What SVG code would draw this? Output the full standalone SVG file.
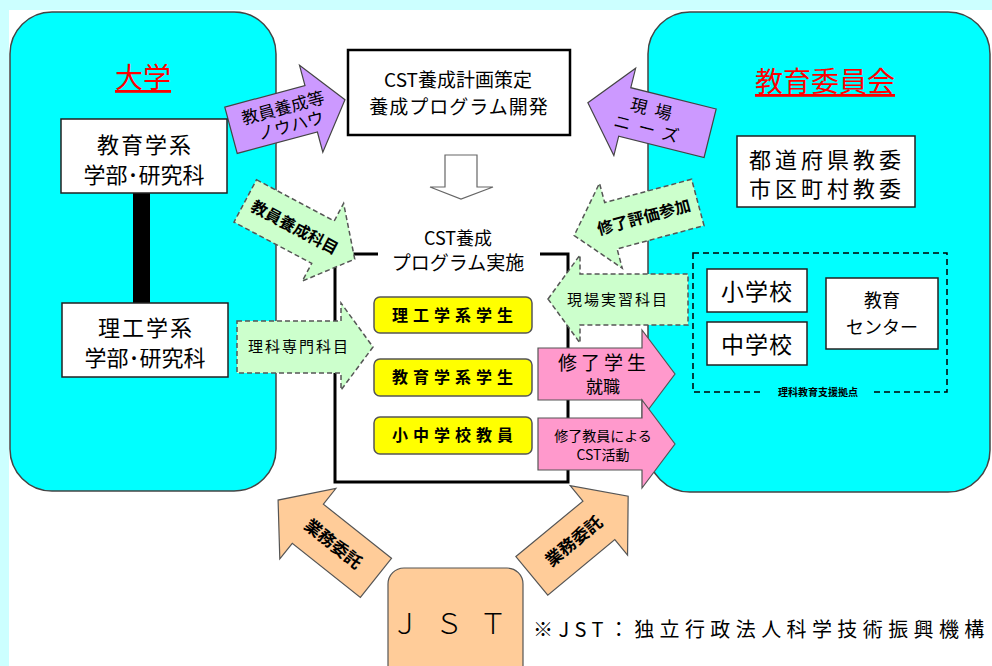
<svg xmlns="http://www.w3.org/2000/svg" width="992" height="666" viewBox="0 0 992 666">
<style>
text{font-family:"Noto Sans CJK JP","Noto Sans CJK SC",sans-serif;fill:#000;text-anchor:middle}
.region{fill:#00ffff;stroke:#444;stroke-width:1.5}
.box{fill:#fff;stroke:#222;stroke-width:1.5}
.yel{fill:#ffff00;stroke:#555;stroke-width:1.5}
.pur{fill:#cc99ff;stroke:#444;stroke-width:1.2}
.grn{fill:#ccffcc;stroke:#555;stroke-width:1.5;stroke-dasharray:5 3}
.pnk{fill:#ff99cc;stroke:#555;stroke-width:1.2}
.pch{fill:#ffcc99;stroke:#555;stroke-width:1.2}
.red{fill:#ff0000;font-size:28px;text-decoration:underline}
.t22{font-size:22px}
.yt{font-size:16px;font-weight:bold;letter-spacing:5px}
</style>
<rect x="0" y="0" width="992" height="666" fill="#ccffff"/>
<rect x="9" y="10" width="983" height="656" fill="#fff"/>

<g id="university">
<rect class="region" x="10" y="12" width="266" height="479" rx="42"/>
<text class="red" x="143" y="88">大学</text>
</g>
<g id="board">
<rect class="region" x="648" y="12" width="342" height="480" rx="42"/>
<text class="red" x="825" y="92">教育委員会</text>
</g>

<g id="program">
<path d="M378,254 H335 V482 H568 V254 H540" fill="none" stroke="#000" stroke-width="3"/>
<text x="458" y="245" font-size="18">CST養成</text>
<text x="458" y="270" font-size="19">プログラム実施</text>
</g>

<g id="connectors">
<rect x="133" y="193" width="17" height="110" fill="#000"/>
<polygon points="445,155 477,155 477,187 493,187 461,199 430,187 445,187" fill="#fff" stroke="#666" stroke-width="1.2"/>
<g transform="translate(288,115) rotate(-15)">
<polygon class="pur" points="-59,-24 24,-24 24,-45 59,0 24,45 24,24 -59,24"/>
<text x="-3" y="-2" font-size="17">教員養成等</text>
<text x="0" y="17" font-size="17">ノウハウ</text>
</g>
<g transform="translate(649,118) rotate(14)">
<polygon class="pur" points="63,-25 -25,-25 -25,-45 -63,0 -25,45 -25,25 63,25"/>
<text x="4" y="-3" font-size="17" letter-spacing="8">現場</text>
<text x="4" y="17" font-size="17" letter-spacing="8">ニーズ</text>
</g>
<g transform="translate(300,230) rotate(28)">
<polygon class="grn" points="-62,-24 26,-24 26,-44 62,0 26,44 26,24 -62,24"/>
<text x="-6" y="6" font-size="16" font-weight="bold">教員養成科目</text>
</g>
<g transform="translate(636,219) rotate(-15)">
<polygon class="grn" points="64,-24 -26,-24 -26,-44 -64,0 -26,44 -26,24 64,24"/>
<text x="8" y="6" font-size="16" font-weight="bold">修了評価参加</text>
</g>
<polygon class="grn" points="548,299 580,255 580,274 688,274 688,325 580,325 580,343"/>
<text x="618" y="305" font-size="15" letter-spacing="2">現場実習科目</text>
<polygon class="grn" points="237,321 341,321 341,303 373,347 341,390 341,373 237,373"/>
<text x="299" y="352" font-size="15" letter-spacing="2">理科専門科目</text>
<polygon class="pnk" points="538,348 642,348 642,330 675,374 642,418 642,400 538,400"/>
<text x="604" y="370" font-size="19" letter-spacing="4">修了学生</text>
<text x="603" y="393" font-size="17">就職</text>
<polygon class="pnk" points="538,418 642,418 642,400 675,444 642,488 642,470 538,470"/>
<text x="603" y="441" font-size="14">修了教員による</text>
<text x="603" y="460" font-size="14">CST活動</text>
<g transform="translate(327,539) rotate(38.5)">
<polygon class="pch" points="62.5,-25 -24.5,-25 -24.5,-45 -62.5,0 -24.5,45 -24.5,25 62.5,25"/>
<text x="8" y="6" font-size="17" font-weight="bold">業務委託</text>
</g>
<g transform="translate(580,536) rotate(-39.6)">
<polygon class="pch" points="-62.5,-25 24.5,-25 24.5,-45 62.5,0 24.5,45 24.5,25 -62.5,25"/>
<text x="-8" y="6" font-size="17" font-weight="bold">業務委託</text>
</g>
</g>

<g id="edu-dept">
<rect class="box" x="61" y="119" width="166" height="74"/>
<text class="t22" x="145" y="153" letter-spacing="2">教育学系</text>
<text class="t22" x="144" y="183">学部･研究科</text>
</g>
<g id="sci-dept">
<rect class="box" x="62" y="303" width="166" height="74"/>
<text class="t22" x="146" y="336" letter-spacing="2">理工学系</text>
<text class="t22" x="145" y="366">学部･研究科</text>
</g>

<g id="plan">
<rect x="348" y="50" width="222" height="85" fill="#fff" stroke="#000" stroke-width="2.5"/>
<text x="458" y="87" font-size="19">CST養成計画策定</text>
<text x="459" y="114" font-size="19" letter-spacing="1">養成プログラム開発</text>
</g>

<g id="sci-students">
<rect class="yel" x="374" y="297" width="158" height="36" rx="6"/>
<text class="yt" x="455" y="321">理工学系学生</text>
</g>
<g id="edu-students">
<rect class="yel" x="374" y="359" width="158" height="37" rx="6"/>
<text class="yt" x="455" y="383">教育学系学生</text>
</g>
<g id="teachers">
<rect class="yel" x="374" y="417" width="158" height="37" rx="6"/>
<text class="yt" x="455" y="441">小中学校教員</text>
</g>

<g id="prefecture">
<rect class="box" x="737" y="136" width="178" height="71"/>
<text class="t22" x="827" y="168" letter-spacing="4">都道府県教委</text>
<text class="t22" x="827" y="197" letter-spacing="4">市区町村教委</text>
</g>

<g id="hub">
<rect x="693" y="253" width="254" height="139" fill="none" stroke="#000" stroke-width="1.5" stroke-dasharray="6 4"/>
<rect x="763" y="386" width="110" height="12" fill="#00ffff"/>
<text x="818" y="396" font-size="10" font-weight="bold">理科教育支援拠点</text>
</g>
<g id="elementary">
<rect class="box" x="707" y="269" width="100" height="43"/>
<text x="757" y="300" font-size="23" letter-spacing="1">小学校</text>
</g>
<g id="junior">
<rect class="box" x="707" y="322" width="100" height="43"/>
<text x="757" y="353" font-size="23" letter-spacing="1">中学校</text>
</g>
<g id="center">
<rect class="box" x="826" y="278" width="112" height="71"/>
<text x="882" y="307" font-size="18">教育</text>
<text x="882" y="334" font-size="18">センター</text>
</g>

<g id="jst">
<rect x="388" y="568" width="135" height="120" rx="16" fill="#ffcc99" stroke="#555" stroke-width="1.2"/>
<text x="457" y="634" font-size="28" font-weight="300" letter-spacing="16">ＪＳＴ</text>
</g>
<text x="533" y="637" font-size="20" letter-spacing="5.4" style="text-anchor:start">※JST：独立行政法人科学技術振興機構</text>
</svg>
